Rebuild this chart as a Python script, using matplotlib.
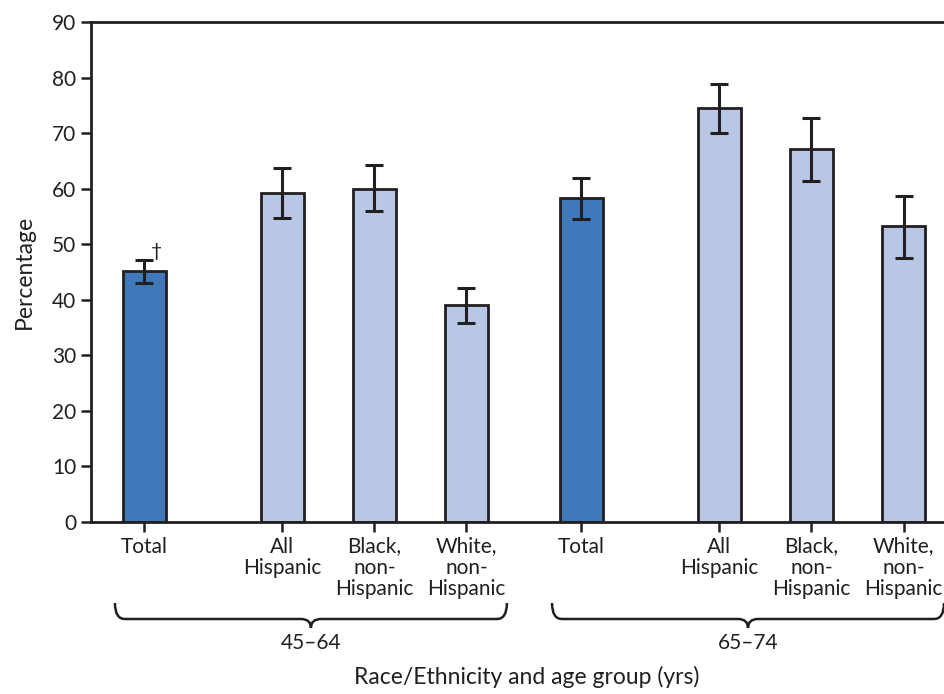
import matplotlib
matplotlib.use("Agg")
import matplotlib.pyplot as plt
from matplotlib.path import Path
from matplotlib.patches import PathPatch
import matplotlib.transforms as mtransforms

# ---- data ----
categories = ["Total", "All\nHispanic", "Black,\nnon-\nHispanic", "White,\nnon-\nHispanic",
              "Total", "All\nHispanic", "Black,\nnon-\nHispanic", "White,\nnon-\nHispanic"]
values = [45.1, 59.3, 60.0, 39.0, 58.3, 74.5, 67.1, 53.2]
ci_low = [43.0, 54.7, 55.9, 35.8, 54.5, 70.1, 61.3, 47.6]
ci_high = [47.2, 63.7, 64.2, 42.1, 61.9, 78.8, 72.8, 58.6]
is_total = [True, False, False, False, True, False, False, False]
age_groups = ["45\u201364", "65\u201374"]
group_members = [[0, 1, 2, 3], [4, 5, 6, 7]]
yticks = [0, 10, 20, 30, 40, 50, 60, 70, 80, 90]
ylabel = "Percentage"
xlabel = "Race/Ethnicity and age group (yrs)"
footnote_mark = "\u2020"

# ---- layout ----
positions = [0, 1.5, 2.5, 3.5, 4.75, 6.25, 7.25, 8.25]
dark = "#3F79BA"
light = "#B8C7E5"
ink = "#231F20"

plt.rcParams['font.family'] = ['Lato', 'DejaVu Sans']
plt.rcParams['text.color'] = ink
plt.rcParams['axes.labelcolor'] = ink
plt.rcParams['xtick.color'] = ink
plt.rcParams['ytick.color'] = ink

fig = plt.figure(figsize=(9.44, 6.94), dpi=100)
ax = fig.add_axes([91/944, 1 - 522/694, (944-91)/944, 500/694])

colors = [dark if t else light for t in is_total]
yerr = [[v - lo for v, lo in zip(values, ci_low)], [hi - v for v, hi in zip(values, ci_high)]]
ax.bar(positions, values, width=0.467, color=colors, edgecolor=ink, linewidth=2.0, zorder=2)
ax.errorbar(positions, values, yerr=yerr, fmt='none', ecolor=ink, elinewidth=2.2,
            capsize=6.5, capthick=2.2, zorder=3)

ax.annotate(footnote_mark, xy=(positions[0], ci_high[0]), xytext=(9, 0),
            textcoords='offset points', ha='center', va='bottom', fontsize=14)

ax.set_xlim(-0.58, 8.69)
ax.set_ylim(0, 90)
ax.set_yticks(yticks)
ax.set_xticks(positions)
ax.set_xticklabels(categories, linespacing=1.08)
ax.tick_params(axis='both', direction='out', length=7, width=1.8, labelsize=15, pad=3.5)

for side in ['left', 'bottom', 'top']:
    ax.spines[side].set_linewidth(2.0)
    ax.spines[side].set_color(ink)
ax.spines['right'].set_visible(False)

ax.set_ylabel(ylabel, fontsize=16.5)
ax.yaxis.set_label_coords(-0.066, 0.5)
ax.set_xlabel(xlabel, fontsize=16.5, va='top')
ax.xaxis.set_label_coords(0.511, -0.288)

# braces for age groups
trans = mtransforms.blended_transform_factory(ax.transData, ax.transAxes)
y_top, y_line, y_pt = -0.162, -0.194, -0.212
r = 0.11
for label, members in zip(age_groups, group_members):
    x0 = positions[members[0]] - 0.32
    x1 = positions[members[-1]] + 0.44
    xm = (x0 + x1) / 2
    verts = [(x0, y_top), (x0, y_line), (x0 + r, y_line),
             (xm - r, y_line), (xm, y_line), (xm, y_pt),
             (xm, y_line), (xm + r, y_line),
             (x1 - r, y_line), (x1, y_line), (x1, y_top)]
    codes = [Path.MOVETO, Path.CURVE3, Path.CURVE3,
             Path.LINETO, Path.CURVE3, Path.CURVE3,
             Path.CURVE3, Path.CURVE3,
             Path.LINETO, Path.CURVE3, Path.CURVE3]
    patch = PathPatch(Path(verts, codes), transform=trans, fill=False,
                      edgecolor=ink, linewidth=1.8, clip_on=False)
    ax.add_patch(patch)
    ax.text(xm, -0.242, label, transform=trans, ha='center', va='center', fontsize=15)

fig.savefig("out.png", dpi=100)
